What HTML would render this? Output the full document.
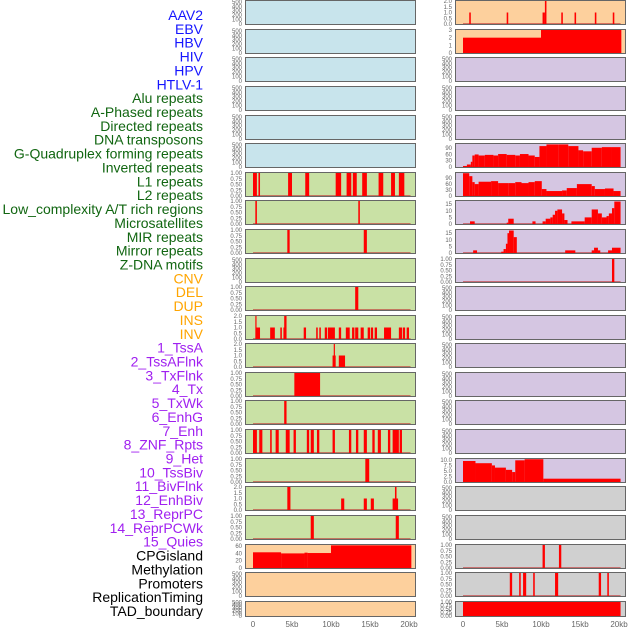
<!DOCTYPE html>
<html><head><meta charset="utf-8">
<style>
html,body{margin:0;padding:0;background:#fff;}
svg{display:block;font-family:"Liberation Sans",sans-serif;}
</style></head>
<body>
<svg id="chart" width="630" height="630" viewBox="0 0 630 630" xmlns="http://www.w3.org/2000/svg"></svg>
<script>
// ---- data ----
const trackLabels = ["AAV2","EBV","HBV","HIV","HPV","HTLV-1","Alu repeats","A-Phased repeats","Directed repeats","DNA transposons","G-Quadruplex forming repeats","Inverted repeats","L1 repeats","L2 repeats","Low_complexity A/T rich regions","Microsatellites","MIR repeats","Mirror repeats","Z-DNA motifs","CNV","DEL","DUP","INS","INV","1_TssA","2_TssAFlnk","3_TxFlnk","4_Tx","5_TxWk","6_EnhG","7_Enh","8_ZNF_Rpts","9_Het","10_TssBiv","11_BivFlnk","12_EnhBiv","13_ReprPC","14_ReprPCWk","15_Quies","CPGisland","Methylation","Promoters","ReplicationTiming","TAD_boundary"];
const labelGroups = [0,0,0,0,0,0,1,1,1,1,1,1,1,1,1,1,1,1,1,2,2,2,2,2,3,3,3,3,3,3,3,3,3,3,3,3,3,3,3,4,4,4,4,4];
const xTicks = [0,5,10,15,20];
const xTickLabels = ["0","5kb","10kb","15kb","20kb"];

// left column panels: [start kb, end kb, value]
const L7 = [[0,0.5,1],[0.7,0.9,1],[4.5,5.0,1],[6.7,7.2,1],[10.6,11.3,1],[12.0,12.6,1],[12.8,13.3,1],[14.0,14.6,1],[16.1,16.7,1],[17.7,18.2,1],[18.7,19.4,1]];
const L8 = [[0.3,0.5,1],[13.5,13.7,1]];
const L9 = [[4.4,4.7,1],[14.2,14.6,1]];
const L11 = [[13.1,13.5,1]];
const L12 = [[0.3,0.4,2],[0.4,0.9,1],[2.2,2.8,1],[3.5,3.7,1],[3.9,4.0,1],[4.0,4.3,2],[6.5,6.8,1],[8.1,8.3,1],[8.5,8.7,1],[9.2,9.5,1],[9.6,10.5,1],[11.0,11.3,1],[11.9,12.4,1],[12.7,13.0,1],[13.1,13.5,1],[13.8,14.2,1],[14.7,15.0,1],[15.1,15.4,1],[15.6,15.9,1],[16.8,17.7,1],[18.7,19.1,1],[19.2,19.5,1],[19.7,20.0,1]];
const L13 = [[10.2,10.6,1],[10.35,10.5,2],[11.0,11.8,1]];
const L14 = [[5.3,8.6,1]];
const L15 = [[4.0,4.3,1]];
const L16 = [[0,0.5,1],[0.8,1.2,1],[2.2,2.4,1],[2.9,3.3,1],[4.2,4.7,1],[5.2,5.5,1],[6.9,7.2,1],[7.4,7.8,1],[8.2,8.5,1],[10.2,10.5,1],[12.3,12.6,1],[13.2,13.5,1],[14.2,14.6,1],[15.3,15.6,1],[16.0,16.4,1],[17.3,17.6,1],[17.9,18.7,1],[18.8,19.1,1]];
const L17 = [[14.4,14.9,1]];
const L18 = [[4.4,4.8,2],[11.3,11.7,1],[14.2,14.6,1],[15.1,15.5,1],[17.9,18.6,1],[18.2,18.4,2]];
const L19 = [[7.4,7.8,1],[18.3,18.7,1]];
const L20 = [[0,3.6,43],[3.6,6.6,40],[6.6,7.0,42],[7.0,10.0,41],[10.0,20.3,62]];

// right column panels
const R1 = [[0.8,1.0,1],[5.6,5.8,1],[10.2,10.5,1],[10.5,10.7,2],[12.6,12.8,1],[14.3,14.5,1],[16.9,17.1,1],[19.2,19.4,1]];
const R2 = [[0,10.0,2],[10.0,20.3,3]];
const R6 = [[0,0.5,5],[0.5,1.0,12],[1.0,1.2,25],[1.2,1.5,55],[1.5,2.0,60],[2.0,2.8,55],[2.8,3.9,58],[3.9,4.5,55],[4.5,5.6,62],[5.6,6.7,58],[6.7,7.3,55],[7.3,8.4,62],[8.4,9.2,55],[9.2,9.8,48],[9.8,10.7,100],[10.7,12.2,108],[12.2,13.5,108],[13.5,14.8,100],[14.8,15.4,80],[15.4,16.5,75],[16.5,17.8,92],[17.8,19.1,95],[19.1,20.2,95]];
const R7 = [[0,0.8,115],[0.8,1.2,100],[1.2,1.5,70],[1.5,2.0,60],[2.0,3.6,72],[3.6,4.5,75],[4.5,5.8,65],[5.8,6.7,65],[6.7,7.5,70],[7.5,8.4,65],[8.4,9.2,70],[9.2,10.1,75],[10.1,10.7,35],[10.7,12.7,25],[12.7,13.3,28],[13.3,14.6,40],[14.6,16.5,60],[16.5,16.9,50],[16.9,18.2,35],[18.2,19.3,38],[19.3,20.2,25]];
const R8 = [[0.9,1.5,2],[5.6,5.8,1],[5.8,6.5,4],[8.9,9.3,2],[10.2,10.6,2],[10.6,11.2,4],[11.2,11.5,5],[11.5,11.8,7],[11.8,12.1,10],[12.1,12.7,11],[12.7,13.0,8],[13.0,13.4,3],[13.9,15.6,2],[15.6,16.5,5],[16.5,17.3,11],[17.3,17.8,8],[17.8,18.4,5],[18.4,18.7,6],[18.7,19.1,8],[19.1,19.4,12],[19.4,20.2,17]];
const R9 = [[1.3,1.8,2],[4.9,5.2,1],[5.2,5.5,3],[5.5,5.7,7],[5.7,5.9,15],[5.9,6.5,17],[6.5,6.9,12],[13.1,14.4,2],[16.5,16.8,2],[16.8,17.3,4],[17.3,17.6,2],[18.6,19.1,2],[19.1,20.2,4]];
const R10 = [[19.1,19.4,1]];
const R17 = [[0,1.6,9.5],[1.6,3.7,8.5],[3.7,4.1,7.5],[4.1,5.5,6.5],[5.5,6.3,5.5],[6.3,6.7,4.5],[6.7,7.9,9.8],[7.9,10.3,10.3],[10.3,20.2,1.5]];
const R20 = [[10.2,10.5,1],[12.3,12.6,1]];
const R21 = [[6.0,6.3,1],[7.2,7.4,1],[7.7,8.1,1],[9.0,9.2,1],[11.8,12.2,1],[17.4,17.7,1],[18.5,18.7,1]];
const R22 = [[0,20.2,1]];

// tick label sets
const tkEmpty = ["0","100","200","300","400","500"];
const tkOne = ["0.00","0.25","0.50","0.75","1.00"];
const tkTwo = ["0.0","0.5","1.0","1.5","2.0"];
const tkThree = ["0","1","2","3"];
const tkNinety = ["0","30","60","90"];
const tkFifteen = ["0","5","10","15"];
const tkTen = ["0.0","2.5","5.0","7.5","10.0"];
const tkSixty = ["0","20","40","60"];

// ---- layout ----
const svg = document.getElementById('chart');
const NS = 'http://www.w3.org/2000/svg';
const rowTop = [0,29,57,86,115,143,172,200,229,258,286,315,343,372,400,429,458,486,515,544,572,601];
const rowH = i => i===21 ? 16 : 25;
const colX = [245,455], colW = 171;
const xScale = (c,kb) => colX[c] + 8 + kb*7.8;
const colors = {blue:"#c8e4ec",green:"#c9e1a5",peach:"#fdd09d",purple:"#d5c6e2",grey:"#d0d0d0"};
const groupColors = ["#1515ff","#116611","#ffa500","#a020f0","#000000"];

function mk(tag, attrs, parent){
  const e = document.createElementNS(NS, tag);
  for (const k in attrs) e.setAttribute(k, attrs[k]);
  (parent||svg).appendChild(e);
  return e;
}

// labels
trackLabels.forEach((t,i)=>{
  const e = mk('text',{x:203,y:15+i*13.86+5,'text-anchor':'end','font-size':14,fill:groupColors[labelGroups[i]]});
  
  
  e.textContent = t;
});

// panel specs: [col,row,bg,data,ticks,ymax]
const panels = [];
for (let r=0;r<6;r++) panels.push([0,r,'blue',null,tkEmpty,520]);
panels.push([0,6,'green',L7,tkOne,1]);
panels.push([0,7,'green',L8,tkOne,1]);
panels.push([0,8,'green',L9,tkOne,1]);
panels.push([0,9,'green',null,tkEmpty,520]);
panels.push([0,10,'green',L11,tkOne,1]);
panels.push([0,11,'green',L12,tkTwo,2]);
panels.push([0,12,'green',L13,tkTwo,2]);
panels.push([0,13,'green',L14,tkOne,1]);
panels.push([0,14,'green',L15,tkOne,1]);
panels.push([0,15,'green',L16,tkOne,1]);
panels.push([0,16,'green',L17,tkOne,1]);
panels.push([0,17,'green',L18,tkTwo,2]);
panels.push([0,18,'green',L19,tkOne,1]);
panels.push([0,19,'peach',L20,tkSixty,63]);
panels.push([0,20,'peach',null,tkEmpty,520]);
panels.push([0,21,'peach',null,tkEmpty,520]);
panels.push([1,0,'peach',R1,tkTwo,2]);
panels.push([1,1,'peach',R2,tkThree,3]);
for (let r=2;r<5;r++) panels.push([1,r,'purple',null,tkEmpty,520]);
panels.push([1,5,'purple',R6,tkNinety,110]);
panels.push([1,6,'purple',R7,tkNinety,116]);
panels.push([1,7,'purple',R8,tkFifteen,17.4]);
panels.push([1,8,'purple',R9,tkFifteen,17.4]);
panels.push([1,9,'purple',R10,tkOne,1]);
for (let r=10;r<16;r++) panels.push([1,r,'purple',null,tkEmpty,520]);
panels.push([1,16,'purple',R17,tkTen,10.4]);
panels.push([1,17,'grey',null,tkEmpty,520]);
panels.push([1,18,'grey',null,tkEmpty,520]);
panels.push([1,19,'grey',R20,tkOne,1]);
panels.push([1,20,'grey',R21,tkOne,1]);
panels.push([1,21,'grey',R22,tkOne,1]);

panels.forEach(([c,r,bg,data,ticks,ymax])=>{
  const top = rowTop[r], h = rowH(r), x0 = colX[c];
  const g = mk('g',{});
  
  
  mk('rect',{x:x0,y:top,width:colW,height:h,fill:colors[bg]},g);
  const y0 = top+h-1, y1 = top+1;
  const yS = v => y0 - (v/ymax)*(y0-y1);
  if (data){
    const base = mk('line',{x1:xScale(c,0),x2:xScale(c,20.2),y1:y0-0.5,y2:y0-0.5,stroke:'#c03030','stroke-opacity':0.6,'stroke-width':1},g);
    
    
    data.forEach(([s,e,v])=>{
      const xa = xScale(c,s), xb = xScale(c,e);
      const b = mk('rect',{x:xa,y:yS(v),width:Math.max(1.2,xb-xa),height:y0-yS(v),fill:'#ff0000'},g);
      
      
    });
  }
  mk('rect',{x:x0+0.5,y:top+0.5,width:colW-1,height:h-1,fill:'none',stroke:'#666','stroke-width':1},g);
  // y ticks
  const n = ticks.length;
  ticks.forEach((t,i)=>{
    const val = parseFloat(t);
    const yy = yS(val);
    const tx = mk('text',{x:x0-3,y:yy+2,'text-anchor':'end','font-size':6,fill:'#666'},g);
    
    
    tx.textContent = t;
  });
});

// x axes
[0,1].forEach(c=>{
  xTicks.forEach((k,i)=>{
    const t = mk('text',{x:xScale(c,k),y:627,'text-anchor':'middle','font-size':8,fill:'#666'});
    
    
    t.textContent = xTickLabels[i];
  });
});
</script>
</body></html>
